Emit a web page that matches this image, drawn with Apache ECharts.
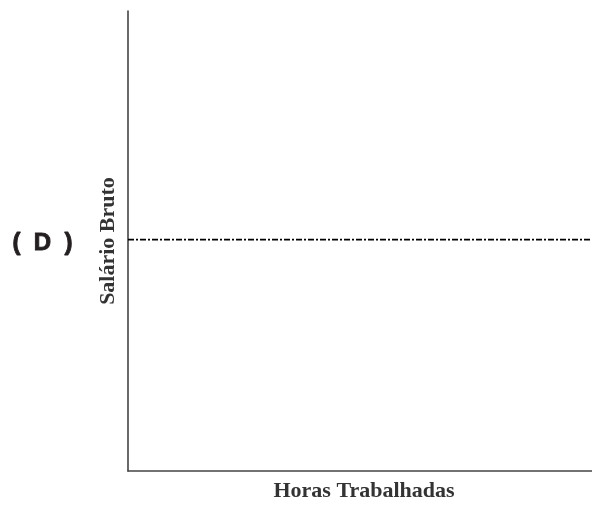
<!DOCTYPE html>
<html>
<head>
<meta charset="utf-8">
<script src="https://cdn.jsdelivr.net/npm/echarts@6/dist/echarts.min.js"></script>
<style>html,body{margin:0;padding:0;background:#fff}#c{width:592px;height:507px}</style>
</head>
<body>
<div id="c"></div>
<script>
const hours = [0, 100];
const salary = [50.3, 50.3];
const xName = 'Horas Trabalhadas';
const yName = 'Salário Bruto';
const panelLabel = '(  D  )';

const chart = echarts.init(document.getElementById('c'), null, {renderer: 'canvas'});
chart.setOption({
  animation: false,
  backgroundColor: '#fff',
  grid: {left: 128, top: 11, right: 0, bottom: 30, containLabel: false},
  xAxis: {
    type: 'value', min: 0, max: 100,
    name: xName, nameLocation: 'middle', nameGap: 9,
    nameTextStyle: {fontFamily: 'Liberation Serif', fontWeight: 'bold', fontSize: 22, color: '#333', verticalAlign: 'top', padding: [0,0,0,8]},
    axisLine: {show: true, lineStyle: {color: '#444', width: 1.6}},
    axisTick: {show: false}, axisLabel: {show: false}, splitLine: {show: false}
  },
  yAxis: {
    type: 'value', min: 0, max: 100,
    name: yName, nameLocation: 'middle', nameGap: 9,
    nameTextStyle: {fontFamily: 'Liberation Serif', fontWeight: 'bold', fontSize: 22, color: '#333'},
    axisLine: {show: true, lineStyle: {color: '#444', width: 1.6}},
    axisTick: {show: false}, axisLabel: {show: false}, splitLine: {show: false}
  },
  graphic: [{
    type: 'text', left: 12, top: 231,
    style: {text: panelLabel, fontFamily: 'Liberation Sans', fontWeight: 'bold', fontSize: 24,
            fill: '#231f20', stroke: '#231f20', lineWidth: 0.9}
  }],
  series: [{
    type: 'line',
    data: hours.map((h, i) => [h, salary[i]]),
    symbol: 'none',
    lineStyle: {color: '#000', width: 1.8, type: [6, 2, 2, 2]},
    silent: true
  }]
});
</script>
</body>
</html>
